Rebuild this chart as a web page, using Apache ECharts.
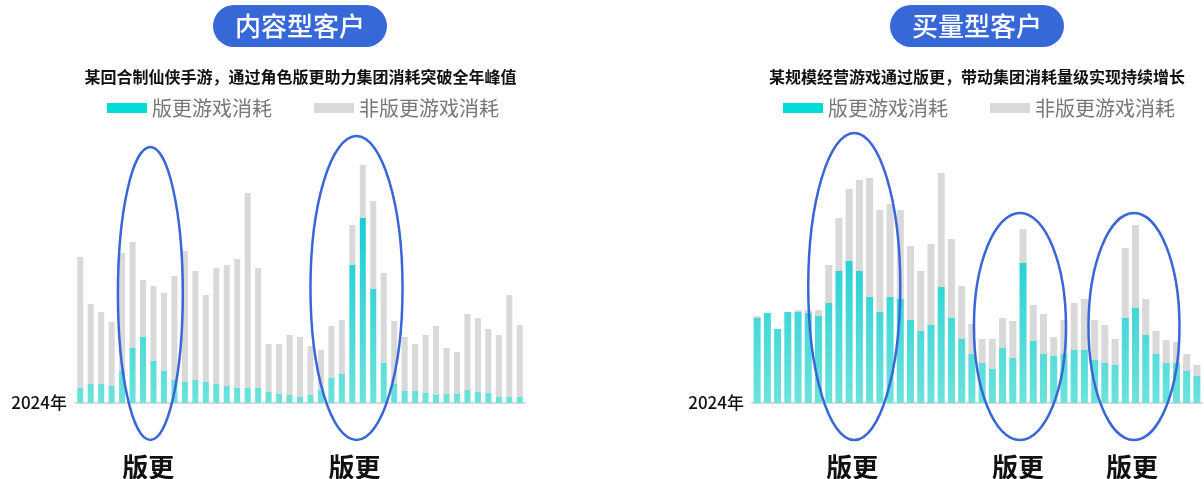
<!DOCTYPE html>
<html>
<head>
<meta charset="utf-8">
<script src="https://cdn.jsdelivr.net/npm/echarts@6/dist/echarts.min.js"></script>
<style>
  html, body { margin: 0; padding: 0; background: #fff; }
  #chart { width: 1204px; height: 479px; }
</style>
</head>
<body>
<div id="chart"></div>
<script>
// 内容型客户：版更游戏消耗 / 非版更游戏消耗（按周）
const leftVersion = [15, 19, 19, 17, 32, 55, 66, 42, 32, 23, 21, 23, 21, 19, 17, 15, 15, 15, 11, 9, 8, 6,
  8, 13, 25, 29, 138, 185, 114, 40, 19, 12, 12, 10, 8, 9, 9, 13, 11, 10, 6, 6, 6]
const leftOther = [131, 80, 72, 64, 118, 106, 57, 75, 78, 104, 131, 109, 87, 116, 121, 129, 195, 120, 48, 50, 60, 60,
  49, 40, 52, 54, 40, 53, 88, 90, 63, 54, 47, 58, 69, 46, 42, 76, 74, 64, 62, 102, 72]

// 买量型客户
const rightVersion = [85, 90, 74, 91, 91, 90, 87, 100, 132, 142, 132, 106, 91, 106, 104, 83, 72, 78, 116, 85, 64, 49,
  40, 34, 55, 45, 140, 62, 49, 47, 49, 53, 53, 43, 40, 38, 85, 95, 68, 49, 40, 40, 32, 27]
const rightOther = [2, 0, 0, 0, 2, 3, 6, 38, 53, 72, 91, 119, 102, 93, 89, 74, 60, 81, 114, 79, 53, 30,
  24, 30, 30, 37, 34, 36, 40, 19, 34, 47, 51, 40, 38, 26, 70, 83, 36, 23, 23, 21, 17, 11]

const leftWeeks = leftVersion.map((_, i) => 'W' + (i + 1))
const rightWeeks = rightVersion.map((_, i) => 'W' + (i + 1))

// 版更区间（周序号范围，圈的上沿数值）
const leftSpans = [[3.6, 9.8, 256], [22.0, 30.8, 267]]
const rightSpans = [[5.0, 14.0, 270], [21.2, 30.2, 190], [32.4, 41.3, 190]]

const names = ['版更游戏消耗', '非版更游戏消耗']
const yearLabel = '2024年'

const mycharts = echarts.init(document.getElementById('chart'))

const tealFill = {
  type: 'linear',
  x: 0, y: 165, x2: 0, y2: 403,
  colorStops: [
    { offset: 0, color: '#00c5d2' },
    { offset: 1, color: '#6ce2dc' },
  ],
  global: true,
}

function xAxisFor(gridIndex, data) {
  return {
    type: 'category',
    gridIndex: gridIndex,
    data: data,
    axisTick: { show: false },
    axisLabel: { show: false },
    axisLine: { show: true, lineStyle: { color: '#d9d9d9', width: 2 } },
    name: yearLabel,
    nameLocation: 'start',
    nameGap: 8,
    nameTextStyle: { color: '#111', fontSize: 17, fontWeight: 500 },
  }
}

function yAxisFor(gridIndex) {
  return { type: 'value', gridIndex: gridIndex, min: 0, max: 250, show: false }
}

function legendAt(left) {
  return {
    left: left,
    top: 98,
    padding: 0,
    icon: 'rect',
    itemWidth: 40,
    itemHeight: 10,
    itemGap: 42,
    textStyle: { fontSize: 20, color: '#777' },
    data: [
      { name: names[0], itemStyle: { color: '#00dcd4' } },
      { name: names[1], itemStyle: { color: '#d9d9d9' } },
    ],
  }
}

function pill(text, left) {
  return {
    text: text,
    left: left,
    top: 5,
    backgroundColor: '#3768d8',
    borderRadius: 21,
    padding: [8, 22],
    textStyle: { color: '#fff', fontSize: 26, fontWeight: 500, lineHeight: 26 },
  }
}

function subtitle(text, centerX) {
  return {
    text: text,
    left: centerX,
    textAlign: 'center',
    top: 69,
    padding: 0,
    textStyle: { color: '#111', fontSize: 16, fontWeight: 'bold' },
  }
}

mycharts.setOption({
  animation: false,
  textStyle: { fontFamily: 'Noto Sans CJK SC' },
  title: [
    pill('内容型客户', 213),
    subtitle('某回合制仙侠手游，通过角色版更助力集团消耗突破全年峰值', 300.5),
    pill('买量型客户', 890),
    subtitle('某规模经营游戏通过版更，带动集团消耗量级实现持续增长', 977),
  ],
  legend: [legendAt(107), legendAt(783)],
  grid: [
    { left: 75, width: 450, top: 153, height: 250 },
    { left: 752, width: 450, top: 153, height: 250 },
  ],
  xAxis: [xAxisFor(0, leftWeeks), xAxisFor(1, rightWeeks)],
  yAxis: [yAxisFor(0), yAxisFor(1)],
  series: [
    { name: names[0], type: 'bar', xAxisIndex: 0, yAxisIndex: 0, stack: 'left', barWidth: 6,
      itemStyle: { color: tealFill }, data: leftVersion },
    { name: names[1], type: 'bar', xAxisIndex: 0, yAxisIndex: 0, stack: 'left', barWidth: 6,
      itemStyle: { color: '#d9d9d9' }, data: leftOther },
    { name: names[0], type: 'bar', xAxisIndex: 1, yAxisIndex: 1, stack: 'right', barWidth: 7,
      itemStyle: { color: tealFill }, data: rightVersion },
    { name: names[1], type: 'bar', xAxisIndex: 1, yAxisIndex: 1, stack: 'right', barWidth: 7,
      itemStyle: { color: '#d9d9d9' }, data: rightOther },
  ],
})

// 版更圈和文字，按坐标轴换算位置
function rings(axisIndex, spans) {
  const finder = { xAxisIndex: axisIndex, yAxisIndex: axisIndex }
  const p0 = mycharts.convertToPixel(finder, [0, 0])
  const p1 = mycharts.convertToPixel(finder, [1, 100])
  const band = p1[0] - p0[0]
  const unit = (p0[1] - p1[1]) / 100
  const out = []
  spans.forEach(([a, b, topVal]) => {
    const x1 = p0[0] + a * band
    const x2 = p0[0] + b * band
    const yTop = p0[1] - topVal * unit
    const yBottom = p0[1] + 37 * unit
    out.push({
      type: 'ellipse',
      z: 100,
      shape: { cx: (x1 + x2) / 2, cy: (yTop + yBottom) / 2, rx: (x2 - x1) / 2, ry: (yBottom - yTop) / 2 },
      style: { fill: 'none', stroke: '#3a66d8', lineWidth: 2.5 },
    })
    out.push({
      type: 'text',
      z: 100,
      x: (x1 + x2) / 2 - 2,
      y: p0[1] + 64,
      style: {
        text: '版更',
        fill: '#111',
        font: 'bold 26px "Noto Sans CJK SC"',
        textAlign: 'center',
        textVerticalAlign: 'middle',
      },
    })
  })
  return out
}

mycharts.setOption({ graphic: rings(0, leftSpans).concat(rings(1, rightSpans)) })
</script>
</body>
</html>
